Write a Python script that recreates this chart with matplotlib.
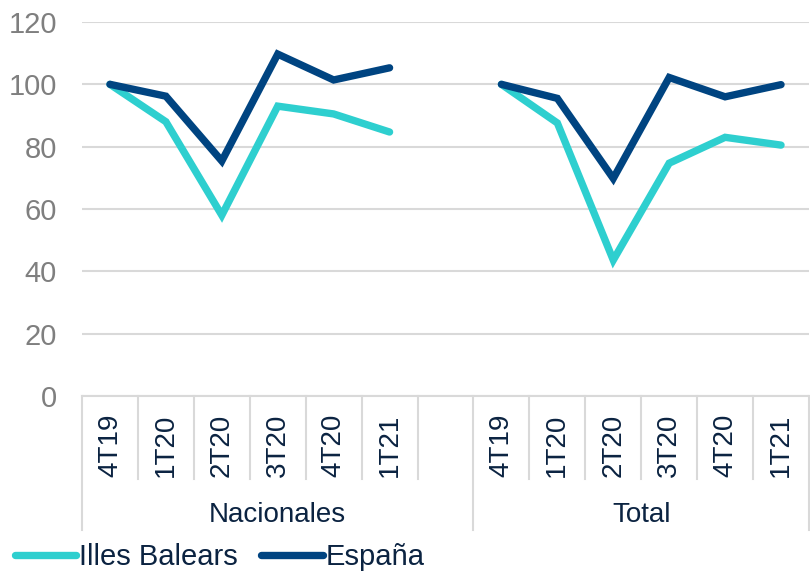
import matplotlib.pyplot as plt
from matplotlib.lines import Line2D

plt.rcParams['font.family'] = ['Liberation Sans', 'DejaVu Sans']

# Data
quarters = ["4T19", "1T20", "2T20", "3T20", "4T20", "1T21"]
groups = ["Nacionales", "Total"]
baleares_nac = [100, 88, 58, 93, 90.5, 84.7]
espana_nac = [100, 96.2, 75.4, 109.7, 101.4, 105.3]
baleares_tot = [100, 87.6, 43.6, 74.7, 83, 80.5]
espana_tot = [100, 95.5, 69.8, 102.2, 96, 99.9]

cyan = "#2ECFCF"
navy = "#004481"
label_col = "#0B2341"
grid_col = "#D9D9D9"

fig = plt.figure(figsize=(8.1, 5.72), dpi=100)
ax = fig.add_axes([82 / 810, 1 - 396 / 572, (809 - 82) / 810, (396 - 22) / 572])

n = len(quarters)
x_nac = list(range(n))
x_tot = [i + n + 1 for i in range(n)]

line_kw = dict(lw=5.3, solid_capstyle="round", solid_joinstyle="miter")
ax.plot(x_nac, baleares_nac, color=cyan, zorder=3, **line_kw)
ax.plot(x_tot, baleares_tot, color=cyan, zorder=3, **line_kw)
ax.plot(x_nac, espana_nac, color=navy, zorder=4, **line_kw)
ax.plot(x_tot, espana_tot, color=navy, zorder=4, **line_kw)

ax.set_xlim(-0.5, 2 * n + 0.5)
ax.set_ylim(0, 120)
ax.set_yticks(range(0, 121, 20))
ax.grid(axis="y", color=grid_col, lw=1.5)
ax.set_axisbelow(True)
for s in ["top", "right", "left"]:
    ax.spines[s].set_visible(False)
ax.spines["bottom"].set_color(grid_col)
ax.spines["bottom"].set_linewidth(1.5)
ax.tick_params(axis="y", length=0, labelsize=21, labelcolor="#7F7F7F", pad=18)
ax.set_xticks([])

trans = ax.get_xaxis_transform()
# category labels
for xs in (x_nac, x_tot):
    for xi, q in zip(xs, quarters):
        ax.text(xi, -0.048, q, transform=trans, rotation=90, ha="center", va="top",
                fontsize=20, color=label_col)

# separators
inner_bottom = -0.222
outer_bottom = -0.358
for k in range(2 * n + 2):
    xb = k - 0.5
    bottom = outer_bottom if k in (0, n + 1, 2 * n + 1) else inner_bottom
    ax.plot([xb, xb], [0, bottom], transform=trans, color=grid_col, lw=1.5, clip_on=False)

# group labels
ax.text((x_nac[0] - 0.5 + n + 0.5) / 2, -0.318, groups[0], transform=trans, ha="center", va="center",
        fontsize=20, color=label_col)
ax.text((x_tot[0] - 0.5 + x_tot[-1] + 0.5) / 2, -0.318, groups[1], transform=trans, ha="center", va="center",
        fontsize=20, color=label_col)

handles = [Line2D([], [], color=cyan, lw=5.3, solid_capstyle="round"),
           Line2D([], [], color=navy, lw=5.3, solid_capstyle="round")]
fig.legend(handles, ["Illes Balears", "España"], loc="center left", bbox_to_anchor=(15 / 810, 0.026),
           frameon=False, fontsize=21, handlelength=2.1, handletextpad=0.1, columnspacing=0.8,
           ncol=2, labelcolor=label_col, borderaxespad=0, borderpad=0)

fig.savefig("out.png", dpi=100)
